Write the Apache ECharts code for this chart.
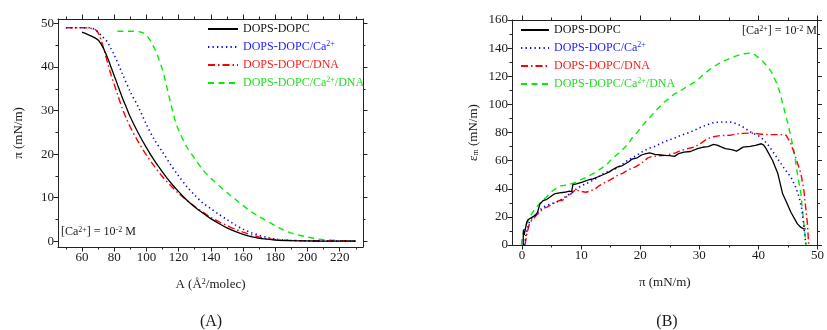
<!DOCTYPE html>
<html><head><meta charset="utf-8">
<script src="https://cdn.jsdelivr.net/npm/echarts@6/dist/echarts.min.js"></script>
<style>html,body{margin:0;padding:0;background:#fff}#c{width:827px;height:330px}</style>
</head><body><div id="c"></div>
<script>
// ---------- DATA ----------
const seriesNames = ['DOPS-DOPC', 'DOPS-DOPC/Ca2+', 'DOPS-DOPC/DNA', 'DOPS-DOPC/Ca2+/DNA'];
const seriesColors = ['#000000', '#0000ff', '#ff0000', '#00ee00'];

// (A) pi-A isotherms : [A (Å²/molec), pi (mN/m)]
const isoPC = [[60,48],[65,47.2],[70,46.2],[73,44.5],[76,42],[78,40],[80,38],[82,36],[85,33],[88,30.3],[90,28.5],[95,24.8],[100,21.5],[105,18.5],[110,15.9],[115,13.5],[120,11.4],[125,9.5],[130,7.9],[135,6.5],[140,5.2],[145,4.1],[150,3.1],[155,2.3],[160,1.6],[165,1.1],[170,0.7],[175,0.5],[180,0.3],[190,0.15],[200,0.1],[210,0.05],[220,0.05],[230,0.05]];
const isoCa = [[50,49],[55,49],[60,49],[65,49],[68,48.6],[70,48],[72,47.2],[74,46.5],[76,45.6],[78,44.2],[80,42.8],[85,38.5],[90,34.3],[95,30.8],[100,26.8],[105,23.3],[110,20.5],[115,17.6],[120,15],[125,12.6],[130,10.6],[135,8.8],[140,7.5],[145,6.2],[150,5],[155,3.8],[160,2.8],[165,2],[170,1.4],[175,0.9],[180,0.5],[190,0.2],[200,0.1],[210,0.05],[220,0.05],[230,0.05]];
const isoDNA = [[50,49],[55,49],[60,49],[65,48.9],[68,48.6],[70,47.8],[72,46],[74,43.5],[76,40.8],[78,38.2],[80,36],[82,33.8],[85,30.5],[88,27.8],[90,26.2],[95,22.8],[100,19.8],[105,17.2],[110,14.8],[115,12.8],[120,11],[125,9.4],[130,8],[135,6.7],[140,5.5],[145,4.5],[150,3.6],[155,2.8],[160,2.1],[165,1.5],[170,1.0],[175,0.6],[180,0.4],[190,0.2],[200,0.15],[210,0.1],[220,0.1],[230,0.1]];
const isoCaDNA = [[82,48.2],[85,48.2],[90,48.2],[95,48.1],[98,47.8],[100,47.3],[102,46.3],[104,45],[106,43.5],[108,41.5],[110,39.3],[112,36.5],[115,31.8],[118,27.5],[120,25.5],[125,21.7],[130,19],[135,16.4],[140,14.5],[145,12.8],[150,11.2],[155,9.7],[160,8.2],[165,6.8],[170,5.7],[175,4.6],[180,3.6],[185,2.6],[190,1.9],[195,1.4],[200,1.0],[205,0.6],[210,0.4],[220,0.2],[230,0.1]];

// (B) compressional modulus : [pi (mN/m), eps_m (mN/m)]
const modPC = [[0.2,0],[0.2,5],[0.25,11],[0.35,7],[0.5,10],[0.78,16],[1.0,18],[1.33,18.5],[1.8,20],[2.2,21],[2.6,23],[3.0,29],[3.55,31.6],[4.2,32.5],[4.7,34],[5.0,33.5],[5.5,36.4],[6.3,37],[7.2,37.5],[8.0,38.3],[8.4,38],[8.6,43],[9.2,43.5],[10.2,44.7],[11.3,46.4],[12,47],[13,48.7],[14,50.5],[14.7,51.8],[15.5,54],[16.1,55.4],[17,56.5],[18,59],[18.6,61],[19.5,62],[20.2,64],[21,65],[21.6,65.5],[22.5,64.5],[23.5,64],[24.1,63.7],[25,63.5],[25.8,63],[26.5,65],[27.4,66],[28.5,66.5],[29.7,68.5],[30.5,69.5],[31.5,70],[32.4,71.5],[33,71],[33.6,70],[34.4,68.5],[35.2,68],[35.8,67.5],[36.3,66.8],[36.8,68],[37.4,69.6],[38.6,70.1],[39.5,70.8],[40.5,72],[40.9,71],[41.3,68.5],[42.4,60.1],[43.3,50.6],[44.1,36.4],[44.8,30],[45.5,23.3],[46.6,15],[47.2,12.5],[47.7,11.4],[48.0,11.4]];
const modCa = [[0.3,0],[0.5,3],[0.7,8],[1.05,13.8],[1.3,17],[2.4,22],[3.55,27],[4.7,29],[5.8,30.4],[6.9,33],[8.3,37],[9.1,39.5],[10,42],[10.8,43.5],[12,46],[13,48.5],[13.6,50.6],[14.5,52],[15.8,54.2],[17,57.5],[18,60.5],[18.6,62],[19.5,64],[20.2,66],[21.3,68.5],[22.4,70],[24.1,73.5],[25.8,76],[26.9,78],[28.6,80.5],[29.7,82.7],[31.3,85.5],[32.4,87],[33.6,87.5],[35.2,87.5],[36.3,86.3],[37.4,83.9],[38.6,80.5],[40.3,77],[41.5,72],[43,63],[44.4,54.2],[45.5,48.2],[46.3,41.1],[46.9,34],[47.4,24.5],[47.7,12.6],[48,0.7]];
const modDNA = [[0.5,0],[0.8,7.8],[1.3,16],[2.4,20.9],[3.55,25.7],[4.2,27],[5.2,29.2],[6.2,31.5],[6.9,32],[7.4,34],[8.3,36.5],[9.1,39.5],[9.6,38.5],[10.8,37.5],[11.6,38.5],[12.4,40],[13,42],[14.1,44.7],[15,46.5],[16.1,49.4],[17,51],[18,53.5],[19.1,55.4],[20.2,58],[21.3,62],[22,63],[23,63.3],[24.1,63.7],[25,64.5],[26,65.5],[26.9,67.3],[28,68.5],[29,69.5],[29.7,71],[30.5,73],[31.3,75.5],[32.4,77],[33.5,77.8],[35.2,78],[36.3,79],[37.4,79.4],[38.5,79.6],[39.5,79.3],[40.5,78.8],[41.5,78.5],[43,78.5],[44,78.5],[44.7,78],[45.5,72],[46.3,62.5],[47.2,50.6],[47.7,38.7],[48,26.8],[48.3,15],[48.5,0.7]];
const modCaDNA = [[-0.1,0],[0,5.5],[0.5,12.6],[1.2,18.5],[1.6,22],[2.4,26.9],[3.3,31],[4.1,34],[4.9,37.5],[6.3,42],[7.5,42.5],[9.1,44.5],[10,46.5],[11.3,49],[12.5,52],[13.6,55],[14.5,58],[15.2,61.3],[16,64],[16.9,67.3],[18,72],[18.6,76],[19.4,79.5],[20.2,84],[21,88],[22,92.5],[22.4,94.6],[23,97],[24.1,101.7],[25,104.5],[25.8,107.5],[26.9,110],[27.4,111.3],[28.5,114],[29.7,117.2],[30.5,120.5],[31.5,124],[32.4,126.7],[33.5,129.5],[34.5,131.5],[35.2,132.7],[36.3,134.5],[37.4,136],[38.8,136.5],[39.5,135],[40.8,130.3],[41.5,127],[42.2,123.1],[43,116],[43.6,108.9],[44.4,95.8],[45,86.3],[45.5,76.8],[46.1,64.9],[46.6,50.6],[47.2,36.4],[47.4,26.8],[47.7,15],[48,3],[48.05,0]];

// Tick values
const aXMajor = [60,80,100,120,140,160,180,200,220];
const aXMinor = [50,70,90,110,130,150,170,190,210,230];
const aYMajor = [0,10,20,30,40,50];
const aYMinor = [5,15,25,35,45];
const bXMajor = [0,10,20,30,40,50];
const bXMinor = [5,15,25,35,45];
const bYMajor = [0,20,40,60,80,100,120,140,160];
const bYMinor = [10,30,50,70,90,110,130,150];

// ---------- STYLE ----------
const FONT = '"Liberation Serif","Times New Roman",serif';
const TXT = '#1a1a1a';
const AX = '#222';
const dashes = ['solid', [1.3, 3.2], [7, 3, 1.5, 3], [6, 4.5]];
const widths = [1.3, 1.6, 1.4, 1.4];

const rich = {
  sup: {fontSize: 8, fontFamily: FONT, verticalAlign: 'top', lineHeight: 9, padding: [0,0,4,0]},
  sub: {fontSize: 8, fontFamily: FONT, verticalAlign: 'bottom', lineHeight: 9, padding: [5,0,0,0]}
};

function axes(dim, grid, min, max, majors, minors, label, name, nameGap) {
  const other = dim === 'x' ? ['bottom', 'top'] : ['left', 'right'];
  const list = [];
  other.forEach(function (pos, k) {
    list.push({
      type: 'value', gridIndex: grid, position: pos, min: min, max: max,
      splitLine: {show: false},
      axisLine: {show: true, onZero: false, lineStyle: {color: AX, width: 1}},
      axisTick: {show: true, inside: false, length: 4.5, customValues: majors, lineStyle: {color: AX, width: 1}},
      axisLabel: {show: k === 0 && label, customValues: majors, color: TXT, fontFamily: FONT, fontSize: 13, margin: 4},
      name: k === 0 ? name : '',
      nameLocation: 'middle', nameGap: nameGap,
      nameTextStyle: {color: TXT, fontFamily: FONT, fontSize: 13, rich: rich}
    });
    list.push({
      type: 'value', gridIndex: grid, position: pos, min: min, max: max,
      splitLine: {show: false},
      axisLine: {show: false, onZero: false},
      axisTick: {show: true, inside: false, length: 2.5, customValues: minors, lineStyle: {color: AX, width: 1}},
      axisLabel: {show: false, customValues: minors}
    });
  });
  return list;
}

const xAxes = [].concat(
  axes('x', 0, 45.1, 234.5, aXMajor, aXMinor, true, 'A (Å{sup|2}/molec)', 31),
  axes('x', 1, -1.7, 50, bXMajor, bXMinor, true, 'π (mN/m)', 31)
);
const yAxes = [].concat(
  axes('y', 0, -1.3, 51, aYMajor, aYMinor, true, 'π (mN/m)', 33),
  axes('y', 1, 0, 160, bYMajor, bYMinor, true, 'ε{sub|m} (mN/m)', 32)
);

const isoData = [isoPC, isoCa, isoDNA, isoCaDNA];
const modData = [modPC, modCa, modDNA, modCaDNA];
const series = [];
seriesNames.forEach(function (n, i) {
  const ls = {color: seriesColors[i], width: widths[i], type: dashes[i]};
  series.push({name: n, type: 'line', xAxisIndex: 0, yAxisIndex: 0, data: isoData[i], showSymbol: false, symbol: 'none', smooth: 0.3, lineStyle: ls, itemStyle: {color: seriesColors[i]}, animation: false, z: 10 - i});
  series.push({name: n, type: 'line', xAxisIndex: 4, yAxisIndex: 4, data: modData[i], showSymbol: false, symbol: 'none', lineStyle: ls, itemStyle: {color: seriesColors[i]}, animation: false, z: 10 - i});
});

function fmt(name) { return name.replace(/Ca2\+/g, 'Ca{sup|2+}'); }
const textColors = ['#111', '#2222ff', '#ff1a1a', '#22dd22'];
function legendData() {
  return seriesNames.map(function (n, i) {
    return {name: n, itemStyle: {opacity: 0, color: 'rgba(0,0,0,0)', borderWidth: 0},
      textStyle: {color: textColors[i], fontFamily: FONT, fontSize: 12, lineHeight: 14, rich: rich}};
  });
}
const legendCommon = {orient: 'vertical', itemHeight: 12, itemGap: 4, padding: 0, formatter: fmt, selectedMode: false,
  itemStyle: {opacity: 0, color: 'rgba(0,0,0,0)', borderWidth: 0},
  textStyle: {fontFamily: FONT, fontSize: 12, rich: rich}};

const option = {
  backgroundColor: '#fff',
  animation: false,
  grid: [
    {left: 58, top: 19, width: 305, height: 228, containLabel: false},
    {left: 512, top: 20, width: 310, height: 225, containLabel: false}
  ],
  xAxis: xAxes,
  yAxis: yAxes,
  legend: [
    Object.assign({}, legendCommon, {left: 207, top: 22, itemWidth: 30, data: legendData()}),
    Object.assign({}, legendCommon, {left: 520, top: 23, itemWidth: 28, data: legendData()})
  ],
  graphic: [
    {type: 'text', left: 61, top: 226, style: {text: '[Ca{sup|2+}] = 10{sup|-2} M', fill: TXT, fontFamily: FONT, fontSize: 12, rich: rich}},
    {type: 'text', left: 742, top: 25, style: {text: '[Ca{sup|2+}] = 10{sup|-2} M', fill: TXT, fontFamily: FONT, fontSize: 12, rich: rich}},
    {type: 'text', x: 211, y: 322, style: {text: '(A)', fill: TXT, fontFamily: FONT, fontSize: 16, align: 'center', verticalAlign: 'middle'}},
    {type: 'text', x: 667, y: 322, style: {text: '(B)', fill: TXT, fontFamily: FONT, fontSize: 16, align: 'center', verticalAlign: 'middle'}}
  ],
  series: series
};

const chart = echarts.init(document.getElementById('c'), null, {renderer: 'canvas'});
chart.setOption(option);
</script>
</body></html>
